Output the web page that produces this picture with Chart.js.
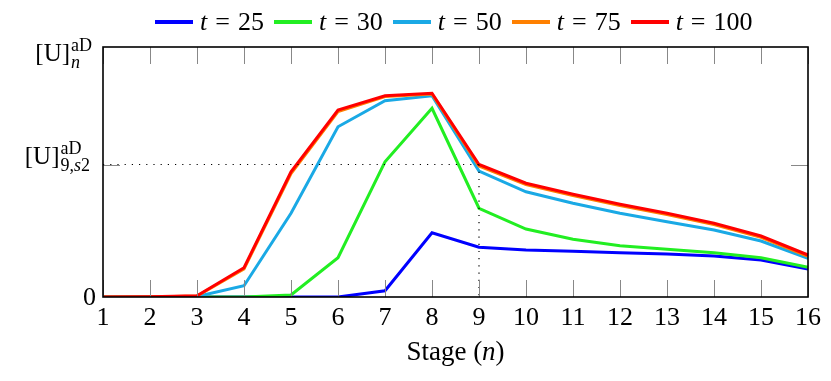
<!DOCTYPE html>
<html>
<head>
<meta charset="utf-8">
<script src="https://cdn.jsdelivr.net/npm/chart.js@4"></script>
<style>
  body { margin: 0; background: #fff; }
  #wrap { position: relative; width: 831px; height: 381px; }
  #legend { position: absolute; left: 155px; top: 7px; display: flex; align-items: center;
            font-family: "Liberation Serif", serif; font-size: 26px; line-height: 30px; color: #000; }
  #legend .item { display: flex; align-items: center; margin-right: 10px; }
  #legend .swatch { width: 38px; height: 4px; margin-right: 7px; }
  #legend .eq { margin: 0 8px; }
</style>
</head>
<body>
<div id="wrap">
  <canvas id="chart" width="831" height="381"></canvas>
  <div id="legend"></div>
</div>
<script>
const stages = ['1','2','3','4','5','6','7','8','9','10','11','12','13','14','15','16'];
const t25  = [0, 0, 0, 0, 0, 0, 0.025, 0.257, 0.199, 0.188, 0.183, 0.177, 0.172, 0.164, 0.148, 0.112];
const t30  = [0, 0, 0, 0, 0.008, 0.157, 0.541, 0.755, 0.355, 0.272, 0.231, 0.205, 0.191, 0.177, 0.157, 0.119];
const t50  = [0, 0, 0.002, 0.045, 0.335, 0.681, 0.785, 0.805, 0.504, 0.421, 0.375, 0.335, 0.301, 0.268, 0.224, 0.155];
const t75  = [0, 0, 0.004, 0.112, 0.494, 0.742, 0.802, 0.812, 0.524, 0.450, 0.406, 0.366, 0.330, 0.290, 0.239, 0.163];
const t100 = [0, 0.001, 0.005, 0.117, 0.501, 0.748, 0.805, 0.815, 0.530, 0.455, 0.411, 0.371, 0.335, 0.295, 0.244, 0.168];
const seriesNames = ['25', '30', '50', '75', '100'];
const seriesColors = ['#0000ff', '#22ee22', '#1aa9e5', '#ff8000', '#ff0000'];

// y axis: 0, [U]_{9,s2}, [U]_n
const yTicks = [0, 0.53, 1];
const refStage = '9';

const serif = '"Liberation Serif", serif';

// legend as html so the t can be italic
const legend = document.getElementById('legend');
seriesNames.forEach((name, i) => {
    const item = document.createElement('div');
    item.className = 'item';
    item.innerHTML = '<span class="swatch" style="background:' + seriesColors[i] + '"></span><span><i>t</i><span class="eq">=</span>' + name + '</span>';
    legend.appendChild(item);
});

// [U] with superscript aD and a subscript made of parts; cy is the middle of [U]
function drawULabel(ctx, right, cy, subParts) {
    const big = '25px ' + serif;
    const small = '18px ' + serif;
    const smallIt = 'italic 18px ' + serif;
    ctx.font = big;
    const wBase = ctx.measureText('[U]').width;
    ctx.font = small;
    const wSup = ctx.measureText('aD').width;
    let wSub = 0;
    subParts.forEach(p => {
        ctx.font = p[1] ? smallIt : small;
        wSub += ctx.measureText(p[0]).width;
    });
    const x0 = right - wBase - Math.max(wSup, wSub) - 1;
    ctx.textBaseline = 'alphabetic';
    ctx.textAlign = 'left';
    ctx.font = big;
    ctx.fillText('[U]', x0, cy + 8);
    ctx.font = small;
    ctx.fillText('aD', x0 + wBase + 1, cy - 2);
    let x = x0 + wBase + 1;
    subParts.forEach(p => {
        ctx.font = p[1] ? smallIt : small;
        ctx.fillText(p[0], x, cy + 15);
        x += ctx.measureText(p[0]).width;
    });
}

const decorations = {
    id: 'decorations',
    afterDatasetsDraw(chart) {
        const ctx = chart.ctx;
        const a = chart.chartArea;
        const xs = chart.scales.x;
        const ys = chart.scales.y;
        ctx.save();

        // dotted reference lines
        const ry = ys.getPixelForValue(yTicks[1]);
        const rx = xs.getPixelForValue(stages.indexOf(refStage));
        ctx.strokeStyle = '#000';
        ctx.lineWidth = 1.2;
        ctx.setLineDash([1.2, 6]);
        ctx.beginPath();
        ctx.moveTo(a.left, ry);
        ctx.lineTo(rx, ry);
        ctx.moveTo(rx, ry);
        ctx.lineTo(rx, a.bottom);
        ctx.stroke();
        ctx.setLineDash([]);

        // tick marks inside the frame
        ctx.strokeStyle = '#888';
        ctx.lineWidth = 1;
        const tl = 17;
        ctx.beginPath();
        stages.forEach((s, i) => {
            const px = Math.round(xs.getPixelForValue(i)) + 0.5;
            ctx.moveTo(px, a.top);
            ctx.lineTo(px, a.top + tl);
            ctx.moveTo(px, a.bottom);
            ctx.lineTo(px, a.bottom - tl);
        });
        const py = Math.round(ry) + 0.5;
        ctx.moveTo(a.left, py);
        ctx.lineTo(a.left + tl, py);
        ctx.moveTo(a.right, py);
        ctx.lineTo(a.right - tl, py);
        ctx.stroke();

        // frame
        ctx.strokeStyle = '#000';
        ctx.lineWidth = 1.6;
        ctx.strokeRect(a.left, a.top, a.right - a.left, a.bottom - a.top);

        // y labels
        ctx.fillStyle = '#000';
        ctx.font = '26px ' + serif;
        ctx.textAlign = 'right';
        ctx.textBaseline = 'middle';
        ctx.fillText('0', a.left - 7, ys.getPixelForValue(yTicks[0]) + 1);
        drawULabel(ctx, a.left - 13, ys.getPixelForValue(yTicks[1]) - 9, [['9,', false], ['s', true], ['2', false]]);
        drawULabel(ctx, a.left - 11, ys.getPixelForValue(yTicks[2]) + 6, [['n', true]]);

        // x title
        ctx.textBaseline = 'middle';
        ctx.textAlign = 'left';
        const p1 = 'Stage (', p3 = ')';
        ctx.font = '27px ' + serif;
        const w1 = ctx.measureText(p1).width, w3 = ctx.measureText(p3).width;
        ctx.font = 'italic 27px ' + serif;
        const w2 = ctx.measureText('n').width;
        const tx = (a.left + a.right) / 2 - (w1 + w2 + w3) / 2;
        const ty = a.bottom + 56;
        ctx.font = '27px ' + serif;
        ctx.fillText(p1, tx, ty);
        ctx.font = 'italic 27px ' + serif;
        ctx.fillText('n', tx + w1, ty);
        ctx.font = '27px ' + serif;
        ctx.fillText(p3, tx + w1 + w2, ty);

        ctx.restore();
    }
};

const allSeries = [t25, t30, t50, t75, t100];
const datasets = allSeries.map((values, i) => ({
    label: 't = ' + seriesNames[i],
    data: values,
    borderColor: seriesColors[i],
    backgroundColor: seriesColors[i],
    borderWidth: 3,
    pointRadius: 0,
    tension: 0,
    fill: false,
    order: allSeries.length - i
}));

new Chart(document.getElementById('chart').getContext('2d'), {
    type: 'line',
    data: { labels: stages, datasets: datasets },
    options: {
        responsive: false,
        animation: false,
        layout: { padding: { top: 47, right: 23, left: 0, bottom: 0 } },
        plugins: { legend: { display: false }, tooltip: { enabled: false } },
        scales: {
            x: {
                type: 'category',
                offset: false,
                grid: { display: false, drawTicks: false },
                border: { display: false },
                ticks: {
                    color: '#000',
                    font: { family: serif, size: 26 },
                    padding: 6,
                    maxRotation: 0,
                    autoSkip: false
                },
                afterFit: function(scale) { scale.height = 84; }
            },
            y: {
                min: 0,
                max: 1,
                grid: { display: false, drawTicks: false },
                border: { display: false },
                ticks: { display: false },
                afterBuildTicks: function(scale) {
                    scale.ticks = yTicks.map(v => ({ value: v }));
                },
                afterFit: function(scale) { scale.width = 103; }
            }
        }
    },
    plugins: [decorations]
});
</script>
</body>
</html>
